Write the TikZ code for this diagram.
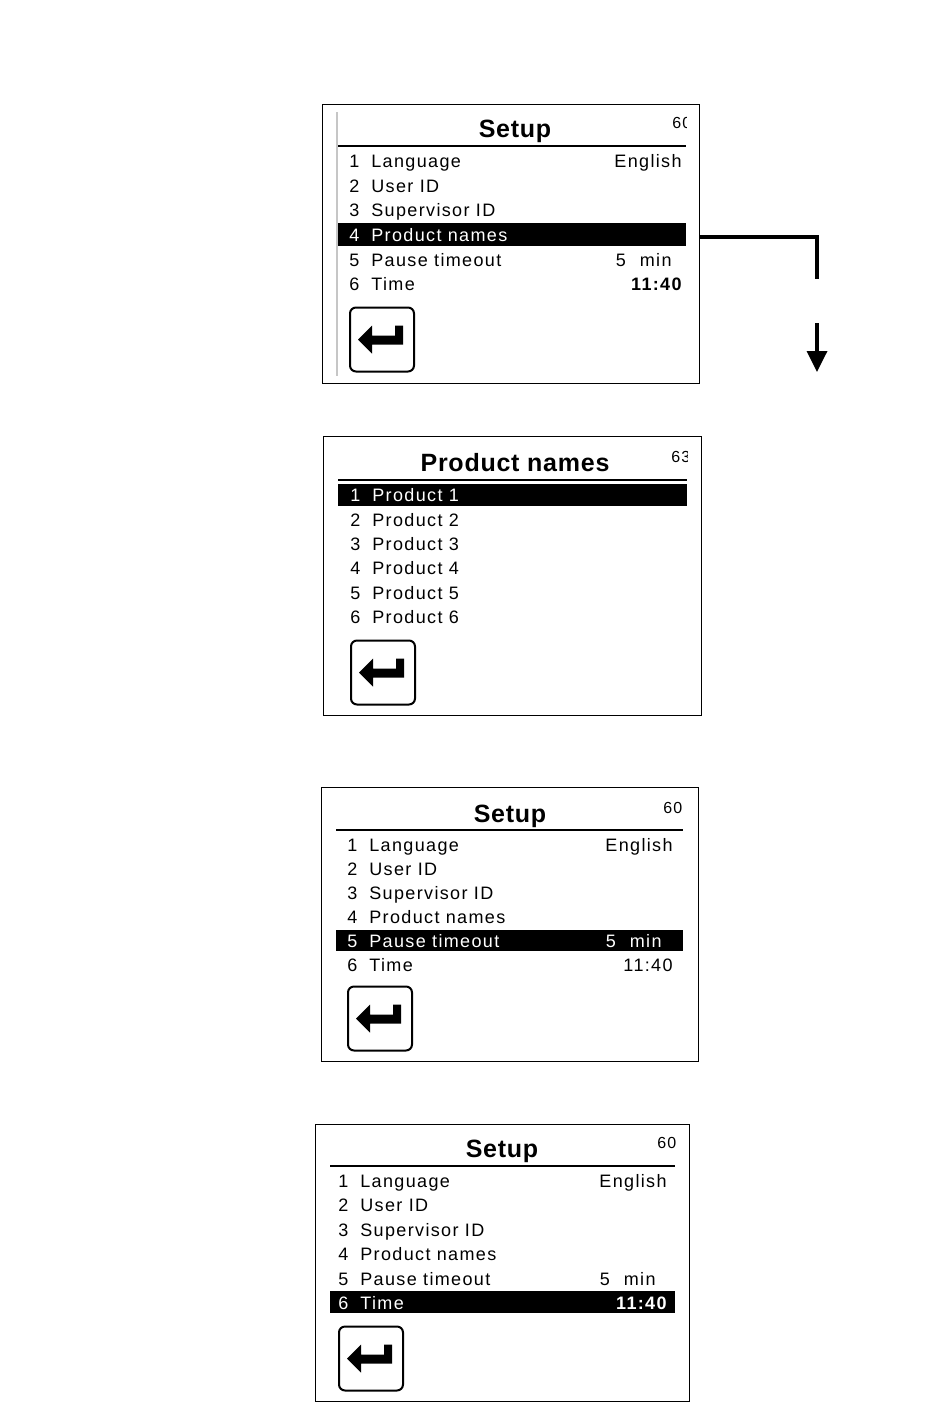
\documentclass[tikz,border=0pt]{standalone}
\usepackage{fontspec}
\setmainfont[LetterSpace=7.5]{Liberation Sans}
\newfontfamily\titlefont[LetterSpace=3]{Liberation Sans}
\usetikzlibrary{arrows.meta}
\tikzset{
	screenbox/.style={draw, line width=0.5pt, inner sep=0pt, fill=white},
	backbox/.style={draw, line width=1pt, rounded corners=3pt, inner sep=0pt, minimum size=32pt},
	titletext/.style={anchor=base, inner sep=0pt, font=\titlefont\bfseries\fontsize{12.5}{14}\selectfont},
	rowtext/.style={anchor=base west, inner sep=0pt, font=\fontsize{9}{11}\selectfont},
	valuetext/.style={anchor=base east, inner sep=0pt, font=\fontsize{9}{11}\selectfont},
	pagenum/.style={anchor=base west, inner sep=0pt, font=\fontsize{8}{10}\selectfont},
	backarrow/.pic={\fill (-24,0) -- (-10,-14) -- (-10,-4) -- (13,-4) -- (13,-14) -- (21,-14) -- (21,5) -- (-10,5) -- (-10,14) -- cycle;}
}
\begin{document}
\begin{tikzpicture}[x=0.5pt, y=-0.5pt]
	\useasboundingbox (0,0) rectangle (950,1420);

	% first setup screen
	\node [screenbox, minimum width=188.5pt, minimum height=139.5pt] (boxA) at (510.5,243.5) {};
	\draw [gray!45, line width=1pt] (337,112) -- (337,376);
	\node [titletext] (titleA) at (515,137) {Setup};
	\begin{scope}
		\clip (660,110) rectangle (686,135);
		\node [pagenum] (numA) at (672,128) {60};
	\end{scope}
	\draw [line width=1pt] (338,146) -- (686,146);
	\fill [black] (338,223) rectangle (686,246);
	\foreach \y/\n/\t/\c in {167/1/Language/black, 192/2/User ID/black, 216/3/Supervisor ID/black, 241/4/Product names/white, 266/5/Pause timeout/black, 290/6/Time/black} {
		\node [rowtext, text=\c] (nA\n) at (349,\y) {\n};
		\node [rowtext, text=\c] (rowA\n) at (371,\y) {\t};
	}
	\node [valuetext] (langA) at (682,167) {English};
	\node [valuetext] (pauseA) at (672,266) {5\hspace{7pt}min};
	\node [valuetext] (timeA) at (682,290) {\bfseries 11:40};
	\node [backbox] (backA) at (382,339.5) {};
	\pic at (backA.center) {backarrow};

	% line down to the next screen
	\coordinate (turn) at (817,237);
	\coordinate (gapTop) at (817,279);
	\coordinate (gapEnd) at (817,323);
	\coordinate (arrowEnd) at (817,372);
	\draw [line width=1.75pt] (boxA.east |- turn) -- (turn) -- (gapTop);
	\draw [line width=1.75pt, -{Triangle[width=10pt, length=10.5pt]}] (gapEnd) -- (arrowEnd);

	% product names screen
	\node [screenbox, minimum width=189pt, minimum height=139.5pt] (boxB) at (512,575.5) {};
	\node [titletext] (titleB) at (515,471) {Product names};
	\begin{scope}
		\clip (660,440) rectangle (687,470);
		\node [pagenum] (numB) at (671,462) {63};
	\end{scope}
	\draw [line width=1pt] (338,480) -- (687,480);
	\fill [black] (338,484) rectangle (687,506);
	\foreach \y/\n/\c in {501/1/white, 526/2/black, 550/3/black, 574/4/black, 599/5/black, 623/6/black} {
		\node [rowtext, text=\c] (nB\n) at (350,\y) {\n};
		\node [rowtext, text=\c] (rowB\n) at (372,\y) {Product \n};
	}
	\node [backbox] (backB) at (383,672.5) {};
	\pic at (backB.center) {backarrow};

	% setup screen, pause timeout
	\node [screenbox, minimum width=188.5pt, minimum height=137pt] (boxC) at (509.5,924) {};
	\node [titletext] (titleC) at (510,822) {Setup};
	\node [pagenum] (numC) at (663,813) {60};
	\draw [line width=1pt] (336,830) -- (683,830);
	\fill [black] (336,930) rectangle (683,951);
	\foreach \y/\n/\t/\c in {851/1/Language/black, 875/2/User ID/black, 899/3/Supervisor ID/black, 923/4/Product names/black, 947/5/Pause timeout/white, 971/6/Time/black} {
		\node [rowtext, text=\c] (nC\n) at (347,\y) {\n};
		\node [rowtext, text=\c] (rowC\n) at (369,\y) {\t};
	}
	\node [valuetext] (langC) at (673,851) {English};
	\node [valuetext, text=white] (pauseC) at (662,947) {5\hspace{7pt}min};
	\node [valuetext] (timeC) at (673,971) {11:40};
	\node [backbox] (backC) at (380,1018.5) {};
	\pic at (backC.center) {backarrow};

	% setup screen, time
	\node [screenbox, minimum width=187pt, minimum height=138.5pt] (boxD) at (502.5,1262.5) {};
	\node [titletext] (titleD) at (502,1157) {Setup};
	\node [pagenum] (numD) at (657,1148) {60};
	\draw [line width=1pt] (330,1166) -- (675,1166);
	\fill [black] (330,1291) rectangle (675,1313);
	\foreach \y/\n/\t/\c in {1187/1/Language/black, 1211/2/User ID/black, 1236/3/Supervisor ID/black, 1260/4/Product names/black, 1285/5/Pause timeout/black, 1309/6/Time/white} {
		\node [rowtext, text=\c] (nD\n) at (338,\y) {\n};
		\node [rowtext, text=\c] (rowD\n) at (360,\y) {\t};
	}
	\node [valuetext] (langD) at (667,1187) {English};
	\node [valuetext] (pauseD) at (656,1285) {5\hspace{7pt}min};
	\node [valuetext, text=white] (timeD) at (667,1309) {\bfseries 11:40};
	\node [backbox] (backD) at (371,1358.5) {};
	\pic at (backD.center) {backarrow};
\end{tikzpicture}
\end{document}
